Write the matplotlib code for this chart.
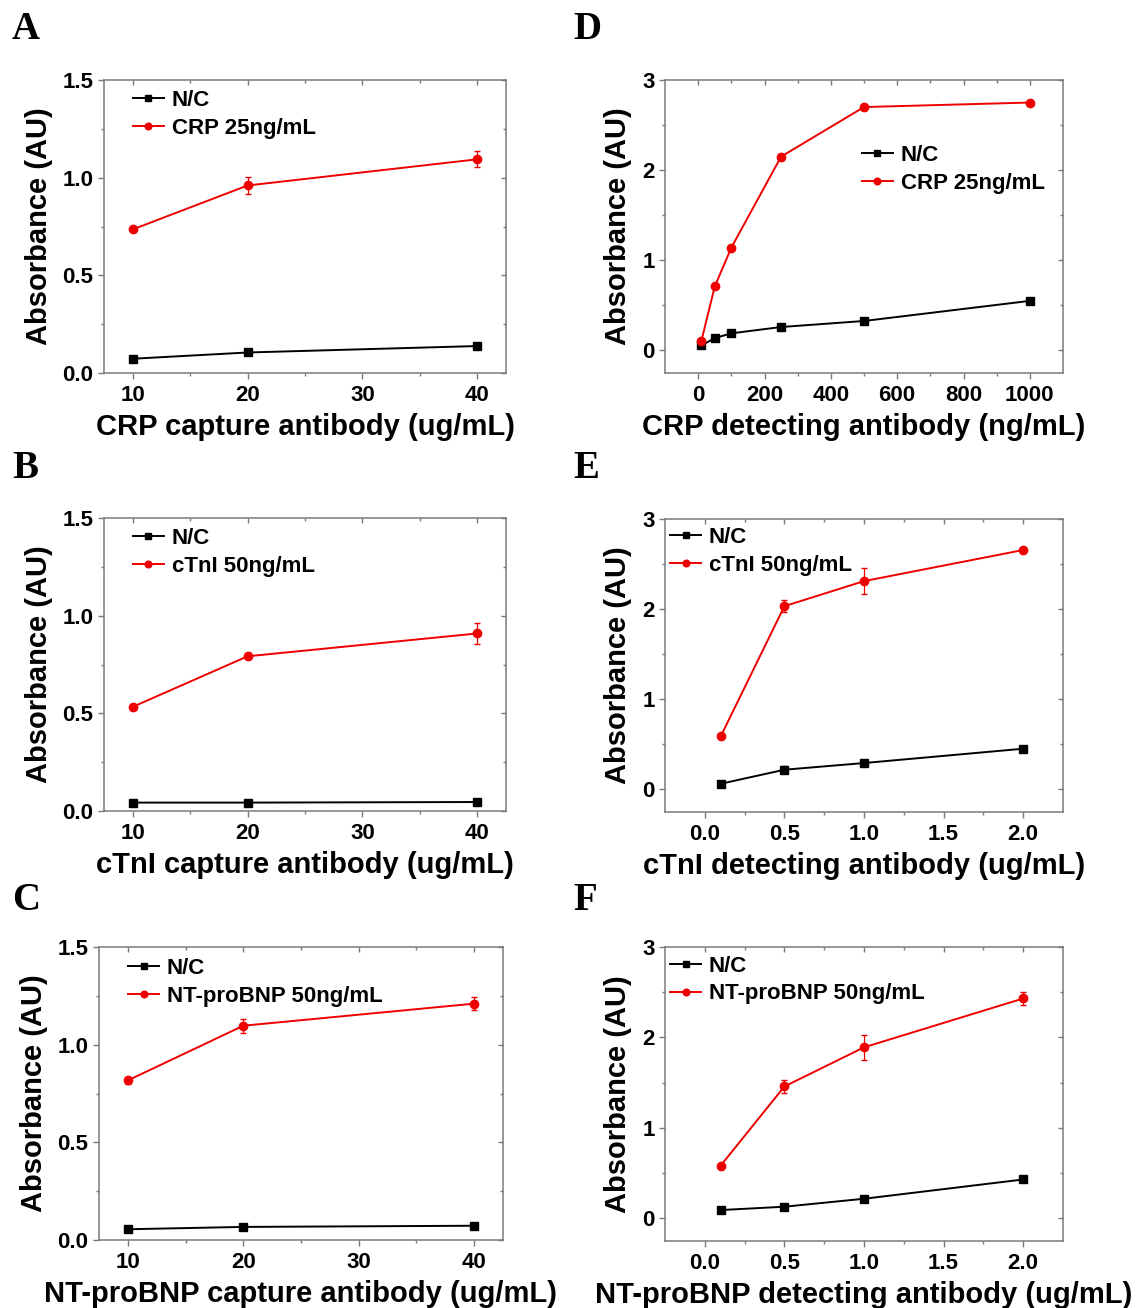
import matplotlib
matplotlib.use("Agg")
import matplotlib.pyplot as plt
from matplotlib.ticker import FixedLocator, FormatStrFormatter

plt.rcParams['font.family'] = ['Liberation Sans', 'DejaVu Sans']

# ---------------- data ----------------
cap_x = [10, 20, 40]
crp_det_x = [10, 50, 100, 250, 500, 1000]
det_x = [0.1, 0.5, 1.0, 2.0]

a_nc = [0.073, 0.105, 0.138]
a_nc_err = [0.005, 0.005, 0.008]
a_pos = [0.735, 0.960, 1.094]
a_pos_err = [0.010, 0.042, 0.041]

d_nc = [0.056, 0.137, 0.190, 0.260, 0.327, 0.550]
d_nc_err = [0.01, 0.01, 0.01, 0.01, 0.01, 0.02]
d_pos = [0.11, 0.71, 1.14, 2.15, 2.70, 2.75]
d_pos_err = [0.02, 0.02, 0.03, 0.03, 0.03, 0.02]

b_nc = [0.043, 0.043, 0.046]
b_nc_err = [0.003, 0.003, 0.003]
b_pos = [0.533, 0.792, 0.909]
b_pos_err = [0.010, 0.015, 0.056]

e_nc = [0.063, 0.219, 0.293, 0.452]
e_nc_err = [0.01, 0.04, 0.02, 0.01]
e_pos = [0.589, 2.033, 2.311, 2.656]
e_pos_err = [0.02, 0.065, 0.145, 0.02]

c_nc = [0.055, 0.067, 0.073]
c_nc_err = [0.003, 0.003, 0.005]
c_pos = [0.817, 1.097, 1.210]
c_pos_err = [0.020, 0.036, 0.034]

f_nc = [0.092, 0.129, 0.217, 0.430]
f_nc_err = [0.01, 0.01, 0.01, 0.01]
f_pos = [0.584, 1.458, 1.891, 2.431]
f_pos_err = [0.03, 0.07, 0.14, 0.073]

labels_pos = ['CRP 25ng/mL', 'CRP 25ng/mL', 'cTnI 50ng/mL', 'cTnI 50ng/mL',
              'NT-proBNP 50ng/mL', 'NT-proBNP 50ng/mL']
xlabels = ['CRP capture antibody (ug/mL)', 'CRP detecting antibody (ng/mL)',
           'cTnI capture antibody (ug/mL)', 'cTnI detecting antibody (ug/mL)',
           'NT-proBNP capture antibody (ug/mL)', 'NT-proBNP detecting antibody (ug/mL)']
letters = ['A', 'D', 'B', 'E', 'C', 'F']

# ---------------- figure ----------------
W, H = 1139, 1308
fig = plt.figure(figsize=(W / 100, H / 100), dpi=100)

def add_ax(l, r, t, b):
    return fig.add_axes([l / W, 1 - b / H, (r - l) / W, (b - t) / H])

SPINE = '#7a7a7a'
RED = '#ee0000'

panels = [
    dict(box=(104, 506, 80, 373), x=cap_x, nc=a_nc, nce=a_nc_err, pos=a_pos, pe=a_pos_err,
         kind='cap', leg=(0.072, 0.966), letter=(12, 39)),
    dict(box=(665, 1063, 80, 373), x=crp_det_x, nc=d_nc, nce=d_nc_err, pos=d_pos, pe=d_pos_err,
         kind='crpdet', leg=(0.494, 0.778), letter=(573, 39)),
    dict(box=(104, 506, 518, 811), x=cap_x, nc=b_nc, nce=b_nc_err, pos=b_pos, pe=b_pos_err,
         kind='cap', leg=(0.072, 0.966), letter=(12, 478)),
    dict(box=(665, 1063, 519, 812), x=det_x, nc=e_nc, nce=e_nc_err, pos=e_pos, pe=e_pos_err,
         kind='det', leg=(0.0125, 0.973), letter=(573, 478)),
    dict(box=(99, 503, 947, 1240), x=cap_x, nc=c_nc, nce=c_nc_err, pos=c_pos, pe=c_pos_err,
         kind='cap', leg=(0.072, 0.962), letter=(12, 910)),
    dict(box=(665, 1063, 947, 1241), x=det_x, nc=f_nc, nce=f_nc_err, pos=f_pos, pe=f_pos_err,
         kind='det', leg=(0.0125, 0.970), letter=(573, 910)),
]

for i, p in enumerate(panels):
    ax = add_ax(*p['box'])
    eb1 = ax.errorbar(p['x'], p['nc'], yerr=p['nce'], color='black', marker='s', ms=5.5,
                      lw=1.4, elinewidth=0.9, capsize=2.5, zorder=3)
    eb2 = ax.errorbar(p['x'], p['pos'], yerr=p['pe'], color=RED, marker='o', ms=6,
                      lw=1.4, elinewidth=0.9, capsize=2.5, zorder=4)

    if p['kind'] == 'cap':
        ax.set_xlim(7.5, 42.5)
        ax.set_ylim(0, 1.5)
        xmaj, xmin = [10, 20, 30, 40], [15, 25, 35]
        ymaj, ymin = [0, 0.5, 1.0, 1.5], [0.25, 0.75, 1.25]
        xfmt, yfmt = '%d', '%.1f'
    elif p['kind'] == 'crpdet':
        ax.set_xlim(-100, 1100)
        ax.set_ylim(-0.25, 3)
        xmaj, xmin = [0, 200, 400, 600, 800, 1000], [100, 300, 500, 700, 900]
        ymaj, ymin = [0, 1, 2, 3], [0.5, 1.5, 2.5]
        xfmt, yfmt = '%d', '%d'
    else:
        ax.set_xlim(-0.25, 2.25)
        ax.set_ylim(-0.25, 3)
        xmaj, xmin = [0, 0.5, 1.0, 1.5, 2.0], [0.25, 0.75, 1.25, 1.75]
        ymaj, ymin = [0, 1, 2, 3], [0.5, 1.5, 2.5]
        xfmt, yfmt = '%.1f', '%d'

    ax.xaxis.set_major_locator(FixedLocator(xmaj))
    ax.xaxis.set_minor_locator(FixedLocator(xmin))
    ax.yaxis.set_major_locator(FixedLocator(ymaj))
    ax.yaxis.set_minor_locator(FixedLocator(ymin))
    ax.xaxis.set_major_formatter(FormatStrFormatter(xfmt))
    ax.yaxis.set_major_formatter(FormatStrFormatter(yfmt))

    for s in ax.spines.values():
        s.set_color(SPINE)
        s.set_linewidth(1.1)
    ax.tick_params(which='major', direction='out', length=4.5, width=1.0, color=SPINE,
                   labelsize=16, pad=3)
    ax.tick_params(which='minor', direction='out', length=2.5, width=1.0, color=SPINE)
    ax.tick_params(axis='x', which='major', pad=4)
    for lab in ax.get_xticklabels() + ax.get_yticklabels():
        lab.set_fontweight('bold')

    # mirrored inward ticks on top/right
    sx = ax.secondary_xaxis('top')
    sx.xaxis.set_major_locator(FixedLocator(xmaj))
    sx.xaxis.set_minor_locator(FixedLocator(xmin))
    sx.tick_params(which='major', direction='in', length=3.5, width=1.0, color=SPINE, labeltop=False)
    sx.tick_params(which='minor', direction='in', length=2, width=1.0, color=SPINE)
    sx.spines['top'].set_visible(False)
    sy = ax.secondary_yaxis('right')
    sy.yaxis.set_major_locator(FixedLocator(ymaj))
    sy.yaxis.set_minor_locator(FixedLocator(ymin))
    sy.tick_params(which='major', direction='in', length=3.5, width=1.0, color=SPINE, labelright=False)
    sy.tick_params(which='minor', direction='in', length=2, width=1.0, color=SPINE)
    sy.spines['right'].set_visible(False)

    ax.set_xlabel(xlabels[i], fontsize=21, fontweight='bold', labelpad=5)
    ax.set_ylabel('Absorbance (AU)', fontsize=21, fontweight='bold', labelpad=7)

    leg = ax.legend([eb1[0], eb2[0]], ['N/C', labels_pos[i]],
                    loc='upper left', bbox_to_anchor=p['leg'], frameon=False,
                    prop={'weight': 'bold', 'size': 16},
                    borderpad=0, borderaxespad=0, handlelength=1.4,
                    handletextpad=0.35, labelspacing=0.3, numpoints=1, markerscale=0.8)

    lx, ly = p['letter']
    fig.text(lx / W, 1 - ly / H, letters[i], fontsize=28, fontweight='bold',
             family=['Liberation Serif', 'DejaVu Serif'], ha='left', va='baseline')

fig.savefig('out.png', dpi=100)
